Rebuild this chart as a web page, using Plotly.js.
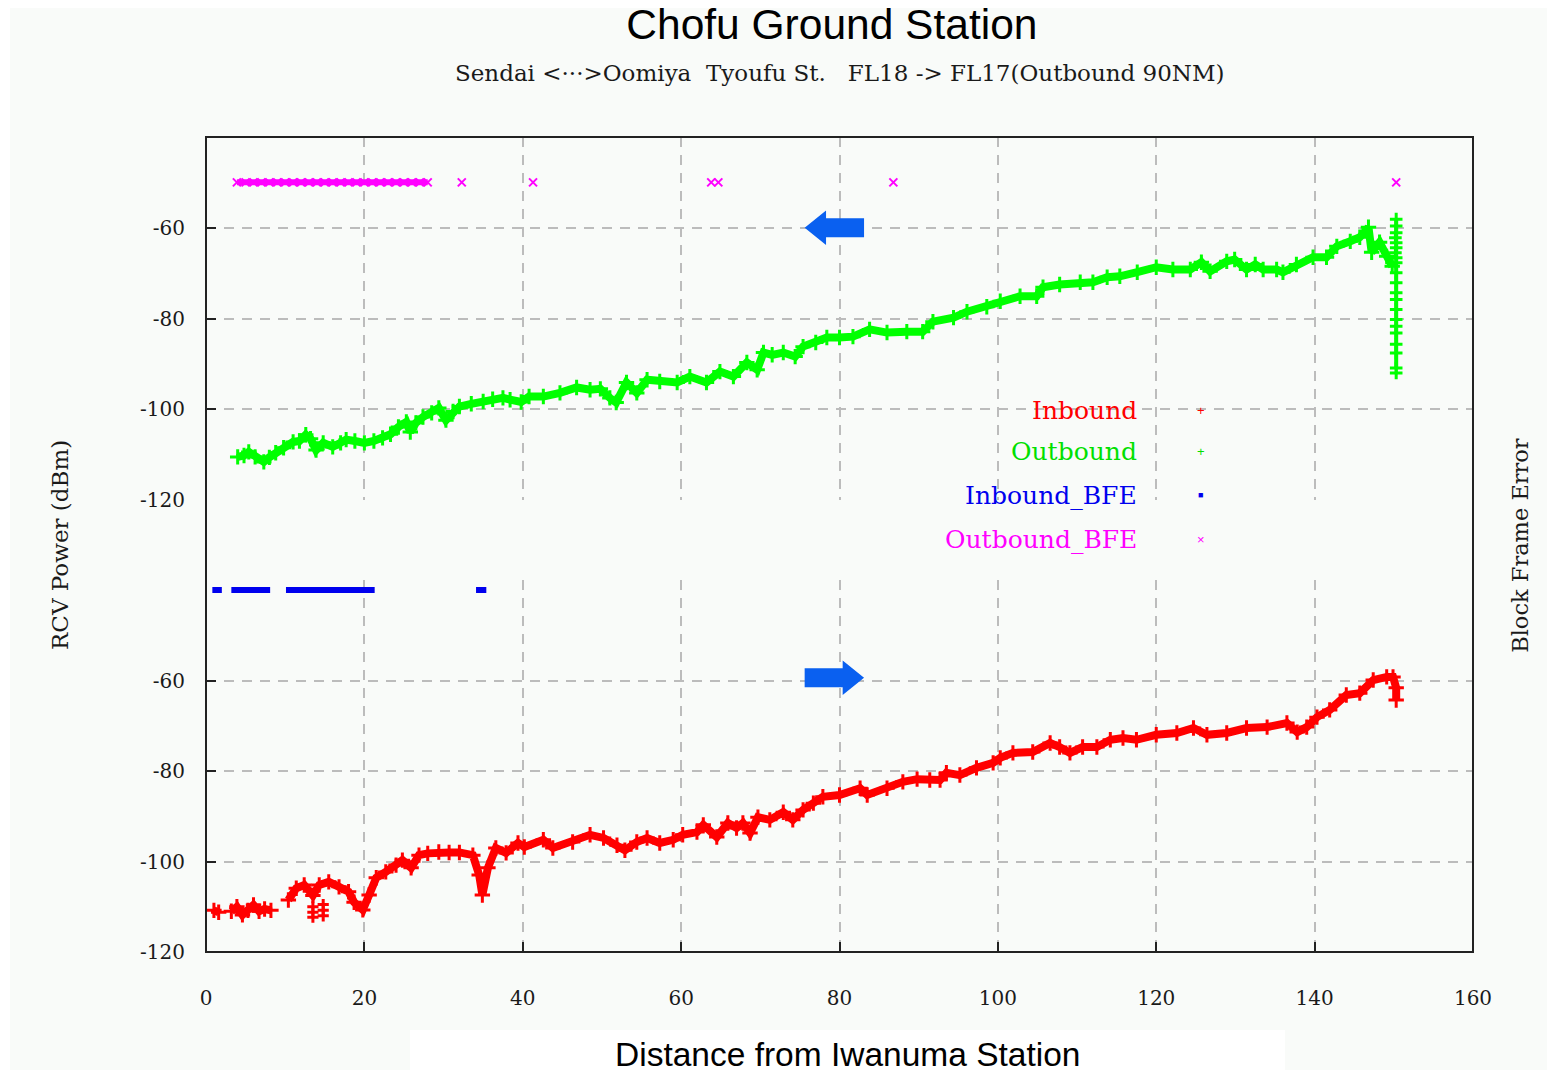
<!DOCTYPE html>
<html>
<head>
<meta charset="utf-8">
<script src="https://cdn.plot.ly/plotly-3.0.1.min.js"></script>
<style>html,body{margin:0;padding:0;background:#fff;}</style>
</head>
<body>
<div id="chart" style="width:1553px;height:1075px;"></div>
<script>
// ---------- DATA ----------
// Outbound (green), upper panel, RCV power dBm vs distance km
const distOut = [
  4.0, 4.8, 5.4, 6.2, 7.3, 8.0, 8.8, 9.8, 11.0, 11.8,
  12.6, 13.2, 13.9, 14.8, 16.0, 17.0, 17.7, 18.8, 20.0, 21.2,
  22.3, 23.3, 24.3, 25.3, 25.8, 26.5, 27.4, 28.5, 29.4, 30.3,
  31.2, 32.0, 33.5, 35.0, 36.2, 37.5, 38.4, 39.8, 40.8, 42.6,
  44.7, 46.8, 48.5, 49.8, 51.0, 51.8, 53.1, 54.4, 55.7, 57.3,
  59.5, 61.1, 63.2, 64.9, 66.6, 68.3, 69.6, 70.4, 71.5, 72.9,
  74.4, 75.4, 77.0, 78.4, 80.0, 81.7, 83.8, 86.0, 88.5, 90.5,
  91.8, 94.4, 96.1, 98.6, 100.3, 102.8, 104.9, 105.7, 107.8, 110.4,
  112.0, 113.8, 115.4, 117.6, 120.0, 122.1, 124.3, 125.7, 126.8, 128.9,
  129.9, 131.4, 132.5, 133.5, 135.2, 136.0, 137.7, 139.8, 141.5, 142.8,
  144.5, 145.7, 146.8, 147.2, 148.2, 149.1, 149.8
];
const pwrOut = [
  -110.5, -110.2, -109.4, -110.5, -111.6, -110.6, -109.6, -108.5, -107.2, -107.0,
  -105.6, -106.5, -109.0, -107.4, -108.3, -107.4, -106.7, -107.0, -107.4, -107.0,
  -106.3, -105.5, -103.9, -102.8, -105.0, -103.0, -101.7, -100.8, -99.7, -102.4,
  -100.5, -99.4, -98.8, -98.3, -97.8, -97.5, -97.9, -98.4, -97.2, -97.2,
  -96.4, -95.2, -95.7, -95.5, -97.5, -98.5, -94.1, -96.4, -93.5, -93.9,
  -94.1, -92.8, -94.1, -91.7, -92.8, -89.7, -91.3, -87.5, -88.0, -87.5,
  -88.4, -86.2, -85.3, -84.2, -84.2, -84.0, -82.4, -83.1, -82.9, -82.9,
  -80.7, -79.8, -78.5, -77.4, -76.2, -75.1, -75.1, -73.1, -72.5, -72.0,
  -72.0, -70.9, -70.7, -69.8, -68.7, -69.2, -69.2, -67.6, -69.6, -67.4,
  -67.0, -69.2, -68.1, -69.2, -69.2, -69.8, -68.1, -66.5, -66.5, -64.1,
  -63.0, -62.1, -59.9, -65.4, -63.2, -66.3, -68.5
];
// Outbound scatter at the end of the track
const distOutEnd = [150.3, 150.3, 150.3, 150.2, 150.3, 150.3, 150.2, 150.3, 150.3, 150.3,
                    150.3, 150.3, 150.3, 150.3, 150.3, 150.3, 150.3, 150.3, 150.3, 150.3];
const pwrOutEnd  = [-58.1, -59.6, -61.1, -62.2, -63.3, -64.4, -65.5, -66.6, -67.7, -69.9,
                    -72.1, -74.3, -75.8, -78.0, -80.2, -81.7, -83.2, -85.7, -87.6, -90.9];
const distOutEnd2 = [150.3];
const pwrOutEnd2  = [-92.0];

// Inbound (red), lower panel
const distIn = [
  1.0, 1.6, 2.4, 3.2, 3.9, 4.6, 5.3, 6.0, 6.7, 7.4,
  8.2, 9.2, 10.4, 11.4, 12.4, 13.5, 14.3, 15.5, 16.8, 18.0,
  18.7, 19.8, 20.6, 21.5, 22.7, 24.0, 24.8, 25.9, 26.9, 28.0,
  29.4, 30.7, 32.0, 33.7, 34.5, 34.9, 35.6, 36.6, 37.9, 39.4,
  40.2, 42.6, 43.8, 46.3, 48.5, 50.2, 51.9, 52.9, 54.4, 55.7,
  57.3, 59.0, 60.2, 62.0, 62.8, 64.5, 65.9, 67.0, 67.8, 68.7,
  69.7, 71.2, 72.9, 74.1, 75.4, 76.7, 77.9, 80.0, 82.6, 83.5,
  86.0, 88.0, 89.8, 91.4, 92.7, 93.5, 95.2, 97.3, 99.4, 100.3,
  101.9, 104.4, 106.6, 107.8, 109.1, 110.7, 112.5, 114.2, 115.8, 117.5,
  120.0, 122.6, 124.7, 126.4, 128.9, 131.4, 134.0, 136.5, 137.8, 139.0,
  140.3, 141.9, 144.0, 145.7, 147.4, 149.1, 149.9, 150.3, 150.3
];
const pwrIn = [
  -110.8, -111.2, null, -111.0, -110.0, -111.8, -110.8, -109.6, -111.0, -110.5,
  -110.8, null, -108.5, -105.9, -105.2, -107.5, -105.2, -104.5, -105.6, -106.7,
  -109.0, -110.7, -107.4, -103.6, -102.3, -100.8, -99.7, -101.4, -98.6, -98.2,
  -97.9, -98.0, -98.0, -98.6, -103.0, -107.4, -101.4, -97.0, -98.1, -95.9,
  -96.8, -95.2, -97.0, -95.7, -94.1, -94.8, -96.4, -97.5, -95.7, -94.8,
  -95.9, -95.2, -94.1, -93.5, -91.9, -94.6, -91.5, -92.6, -91.5, -93.7,
  -90.2, -90.8, -89.1, -90.8, -88.6, -87.1, -85.7, -85.3, -83.8, -85.3,
  -83.8, -82.4, -81.8, -82.0, -82.0, -80.4, -80.9, -79.3, -78.2, -77.1,
  -76.0, -75.8, -73.8, -74.7, -76.0, -74.7, -74.7, -73.1, -72.7, -73.1,
  -72.0, -71.6, -70.5, -72.0, -71.6, -70.5, -70.3, -69.4, -71.4, -70.3,
  -68.1, -66.5, -63.2, -62.8, -59.9, -59.2, -59.2, -61.6, -64.3
];
// Inbound isolated low readings
const distInLow = [13.5, 13.5, 13.5, 14.8, 14.8, 14.8];
const pwrInLow  = [-110.0, -111.2, -112.3, -109.5, -110.8, -112.0];

// Block frame errors
const distInBFE  = [0.8, 1.4, 2.0, null, 3.2, 4.0, 4.8, 5.6, 6.4, 7.2, 8.1, null,
                    10.1, 11.0, 12.0, 13.0, 14.0, 15.0, 16.0, 17.0, 18.0, 19.0, 20.0, 21.3, null,
                    34.1, 34.7, 35.4];
const levelInBFE = [-40, -40, -40, null, -40, -40, -40, -40, -40, -40, -40, null,
                    -40, -40, -40, -40, -40, -40, -40, -40, -40, -40, -40, -40, null,
                    -40, -40, -40];
const distOutBFE  = [3.9, 5.0, 6.0, 7.0, 8.0, 9.0, 10.0, 11.0, 12.0, 13.0, 14.0, 15.0, 16.0,
                     17.0, 18.0, 19.0, 20.0, 21.0, 22.0, 23.0, 24.0, 25.0, 26.0, 27.0, 28.0, null,
                     32.3, null, 41.3, null, 63.8, null, 64.7, null, 86.8, null, 150.3];
const levelOutBFE = [-50, -50, -50, -50, -50, -50, -50, -50, -50, -50, -50, -50, -50,
                     -50, -50, -50, -50, -50, -50, -50, -50, -50, -50, -50, -50, null,
                     -50, null, -50, null, -50, null, -50, null, -50, null, -50];

// Tick labels
const xTicks = [0, 20, 40, 60, 80, 100, 120, 140, 160];
const yTicks = [-120, -100, -80, -60];
const yTickText = ['-120', '-100', '-80', '-60'];

// Legend entries
const legendNames  = ['Inbound', 'Outbound', 'Inbound_BFE', 'Outbound_BFE'];
const legendColors = ['#ff0000', '#00e000', '#0000ee', '#ff00ff'];
const legendSyms   = ['+', '+', '\u25A0', '\u00D7'];

// ---------- STYLE ----------
const SERIF = 'DejaVu Serif, Liberation Serif, serif';
const SANS = 'Liberation Sans, Arial, sans-serif';
const GREEN = '#00ff00', RED = '#ff0000', BLUE = '#0000ee', MAG = '#ff00ff';
const BG = '#f9fbf9';

const traces = [
  {x: distOut, y: pwrOut, xaxis: 'x', yaxis: 'y3', mode: 'lines+markers', name: 'Outbound',
   line: {color: GREEN, width: 8}, marker: {symbol: 'cross-thin', size: 11, line: {color: GREEN, width: 3}}},
  {x: distOutEnd, y: pwrOutEnd, xaxis: 'x', yaxis: 'y3', mode: 'lines+markers', showlegend: false,
   line: {color: GREEN, width: 4}, marker: {symbol: 'cross-thin', size: 9, line: {color: GREEN, width: 3}}},
  {x: distOutEnd2, y: pwrOutEnd2, xaxis: 'x', yaxis: 'y3', mode: 'markers', showlegend: false,
   marker: {symbol: 'cross-thin', size: 9, line: {color: GREEN, width: 3}}},
  {x: distIn, y: pwrIn, xaxis: 'x', yaxis: 'y2', mode: 'lines+markers', name: 'Inbound',
   line: {color: RED, width: 8}, marker: {symbol: 'cross-thin', size: 11, line: {color: RED, width: 3}}},
  {x: distInLow, y: pwrInLow, xaxis: 'x', yaxis: 'y2', mode: 'markers', showlegend: false,
   marker: {symbol: 'cross-thin', size: 8, line: {color: RED, width: 3}}},
  {x: distInBFE, y: levelInBFE, xaxis: 'x', yaxis: 'y2', mode: 'lines', name: 'Inbound_BFE',
   line: {color: BLUE, width: 6}},
  {x: distOutBFE, y: levelOutBFE, xaxis: 'x', yaxis: 'y3', mode: 'lines+markers', name: 'Outbound_BFE',
   line: {color: MAG, width: 6}, marker: {symbol: 'x-thin', size: 8, line: {color: MAG, width: 2}}}
];

const gridStyle = {showgrid: true, gridcolor: '#bcbcbc', gridwidth: 2, griddash: '10px,8px'};

const annotations = [
  {text: 'Sendai &lt;\u00B7\u00B7\u00B7&gt;Oomiya&nbsp; Tyoufu St.&nbsp;&nbsp; FL18 -&gt; FL17(Outbound 90NM)',
   xref: 'paper', yref: 'paper', x: 0.5, y: 1.0785, xanchor: 'center', yanchor: 'middle', showarrow: false,
   font: {family: SERIF, size: 23, color: '#1a1a1a'}},
  {text: 'Distance from Iwanuma Station', xref: 'paper', yref: 'paper', x: 0.506, y: -0.1255,
   xanchor: 'center', yanchor: 'middle', showarrow: false, font: {family: SANS, size: 33.5, color: '#000'}},
  {text: 'RCV Power (dBm)', xref: 'paper', yref: 'paper', x: -0.1152, y: 0.4994, textangle: -90,
   xanchor: 'center', yanchor: 'middle', showarrow: false, font: {family: SERIF, size: 23, color: '#1a1a1a'}},
  {text: 'Block Frame Error', xref: 'paper', yref: 'paper', x: 1.037, y: 0.4994, textangle: -90,
   xanchor: 'center', yanchor: 'middle', showarrow: false, font: {family: SERIF, size: 22.5, color: '#1a1a1a'}}
];
const legendRowsY = [0.665, 0.6135, 0.5607, 0.5067];
legendNames.forEach((nm, i) => {
  annotations.push({text: nm, xref: 'paper', yref: 'paper', x: 0.736, y: legendRowsY[i],
    xanchor: 'right', yanchor: 'middle', showarrow: false,
    font: {family: SERIF, size: 25, color: legendColors[i]}});
  annotations.push({text: legendSyms[i], xref: 'paper', yref: 'paper', x: 0.7853, y: legendRowsY[i],
    xanchor: 'center', yanchor: 'middle', showarrow: false,
    font: {family: SANS, size: i === 2 ? 9 : 13, color: legendColors[i]}});
});

const ARROW = '#0a60f0';
const shapes = [
  // page background panels
  {type: 'rect', xref: 'paper', yref: 'paper', layer: 'below',
   x0: -0.1547, x1: 1.0584, y0: -0.1448, y1: 1.1583, fillcolor: BG, line: {width: 0}},
  {type: 'rect', xref: 'paper', yref: 'paper', layer: 'below',
   x0: 0.1610, x1: 0.8516, y0: -0.1521, y1: -0.0957, fillcolor: '#ffffff', line: {width: 0}},
  // plot frame
  {type: 'rect', xref: 'paper', yref: 'paper', x0: 0, x1: 1, y0: 0, y1: 1,
   line: {color: '#222', width: 2}, fillcolor: 'rgba(0,0,0,0)'},
  // direction arrows
  {type: 'path', xref: 'x', yref: 'y3', fillcolor: ARROW, line: {width: 0},
   path: 'M 75.6,-60 L 78.3,-56.2 L 78.3,-57.9 L 83.1,-57.9 L 83.1,-62.1 L 78.3,-62.1 L 78.3,-63.8 Z'},
  {type: 'path', xref: 'x', yref: 'y2', fillcolor: ARROW, line: {width: 0},
   path: 'M 83.1,-59.4 L 80.4,-55.6 L 80.4,-57.3 L 75.6,-57.3 L 75.6,-61.5 L 80.4,-61.5 L 80.4,-63.2 Z'}
];

// lower panel spans 372 px for 82.21 dB (same 4.525 px/dB scale as the upper panel)
const layout = {
  width: 1553, height: 1075,
  margin: {l: 206, r: 80, t: 137, b: 123},
  paper_bgcolor: '#ffffff', plot_bgcolor: BG,
  showlegend: false,
  title: {text: 'Chofu Ground Station', font: {family: SANS, size: 42.5, color: '#000'},
          xref: 'paper', x: 0.494, xanchor: 'center', yref: 'container', y: 0.978, yanchor: 'middle'},
  xaxis: Object.assign({
    anchor: 'y', range: [0, 160], tickvals: xTicks, ticktext: xTicks.map(String),
    ticks: 'inside', ticklen: 10, tickwidth: 2, tickcolor: '#222',
    showline: false, zeroline: false, ticklabelstandoff: 32,
    tickfont: {family: SERIF, size: 20, color: '#1a1a1a'}
  }, gridStyle),
  yaxis: {domain: [0, 1], range: [0, 1], showgrid: false, zeroline: false, showticklabels: false,
          ticks: '', showline: false, fixedrange: true},
  yaxis2: Object.assign({
    domain: [0, 372 / 815], range: [-120, -37.79], anchor: 'x',
    tickvals: yTicks, ticktext: yTickText, ticks: 'inside', ticklen: 10, tickwidth: 2, tickcolor: '#222',
    showline: false, zeroline: false, ticklabelstandoff: 20,
    tickfont: {family: SERIF, size: 20, color: '#1a1a1a'}
  }, gridStyle),
  yaxis3: Object.assign({
    domain: [452 / 815, 1], range: [-120, -40], anchor: 'x',
    tickvals: yTicks, ticktext: yTickText, ticks: 'inside', ticklen: 10, tickwidth: 2, tickcolor: '#222',
    showline: false, zeroline: false, ticklabelstandoff: 20,
    tickfont: {family: SERIF, size: 20, color: '#1a1a1a'}
  }, gridStyle),
  annotations: annotations,
  shapes: shapes
};

Plotly.newPlot('chart', traces, layout, {displayModeBar: false, staticPlot: true});
</script>
</body>
</html>
